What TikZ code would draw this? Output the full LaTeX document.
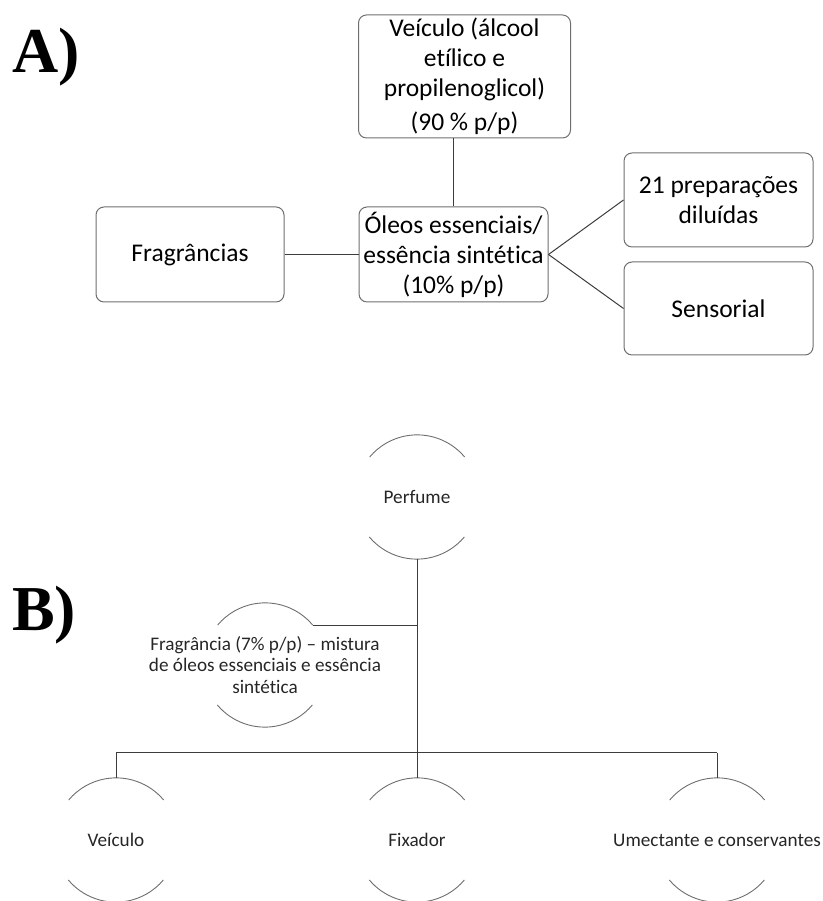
\documentclass[tikz,border=0pt]{standalone}
\usepackage{fontspec}
\setmainfont{Carlito}[Ligatures=NoCommon]
\newfontfamily\labfont{Liberation Serif}
\definecolor{boxline}{RGB}{110,110,110}
\definecolor{conn}{RGB}{60,60,60}
\definecolor{arcc}{RGB}{110,110,110}
\begin{document}
\begin{tikzpicture}[x=1pt,y=1pt,
  boxA/.style={draw=boxline,line width=1pt,rounded corners=8pt,minimum width=#1,inner sep=0pt,align=center,font=\fontsize{25.5}{30}\selectfont},
  conA/.style={draw=conn,line width=1pt},
  circB/.style={circle,minimum size=124pt,inner sep=0pt},
  txtB/.style={align=center,font=\fontsize{19.2}{21.8}\selectfont,text=black!85},
  arcB/.style={draw=arcc,line width=0.9pt},
  conB/.style={draw=conn,line width=1pt},
  lab/.style={font=\labfont\bfseries\fontsize{64}{64}\selectfont,anchor=base west,inner sep=0pt}
]
\useasboundingbox (0,0) rectangle (822,901);
% ---------- A ----------
\node[lab] (labA) at (12,828) {A)};
\node[boxA=212pt,minimum height=123pt] (veic) at (464.5,824.5)
  {Veículo (álcool\\etílico e\\propilenoglicol)\\[4pt](90 \% p/p)};
\node[boxA=189pt,minimum height=95pt] (oleo) at (453.5,646.5)
  {Óleos essenciais/\\essência sintética\\(10\% p/p)};
\node[boxA=188pt,minimum height=95pt] (frag) at (190,646.5) {Fragrâncias};
\node[boxA=189pt,minimum height=94pt] (prep) at (718.5,701) {21 preparações\\diluídas};
\node[boxA=189pt,minimum height=93pt] (sens) at (718.5,592.5) {Sensorial};
\draw[conA] (oleo.north) -- (oleo.north |- veic.south);
\draw[conA] (frag.east) -- (oleo.west);
\draw[conA] (oleo.east) -- (prep.west);
\draw[conA] (oleo.east) -- (sens.west);
% ---------- B ----------
\node[lab] (labB) at (12,270) {B)};
\node[circB] (perf) at (417,404) {};
\node[txtB] (perft) at (perf.center) {Perfume};
\node[circB] (fragr) at (265,236) {};
\node[txtB] (fragrt) at (fragr.center) {Fragrância (7\% p/p) – mistura\\de óleos essenciais e essência\\sintética};
\node[circB] (veh) at (116,61) {};
\node[txtB] (veht) at (veh.center) {Veículo};
\node[circB] (fix) at (417,61) {};
\node[txtB] (fixt) at (fix.center) {Fixador};
\node[circB] (ume) at (717,61) {};
\node[txtB] (umet) at (ume.center) {Umectante e conservantes};
\foreach \n in {perf,fragr,veh,fix,ume}{
  \draw[arcB] (\n.40) arc[start angle=40,end angle=140,radius=62pt];
  \draw[arcB] (\n.220) arc[start angle=220,end angle=320,radius=62pt];
}
\coordinate (bar) at (417,148);
\draw[conB] (perf.south) -- (perf.south |- bar);
\draw[conB] (fragr.40) -- (fragr.40 -| perf.south);
\draw[conB] (veh.north |- bar) -- (ume.north |- bar);
\draw[conB] (veh.north |- bar) -- (veh.north);
\draw[conB] (fix.north |- bar) -- (fix.north);
\draw[conB] (ume.north |- bar) -- (ume.north);
\end{tikzpicture}
\end{document}
